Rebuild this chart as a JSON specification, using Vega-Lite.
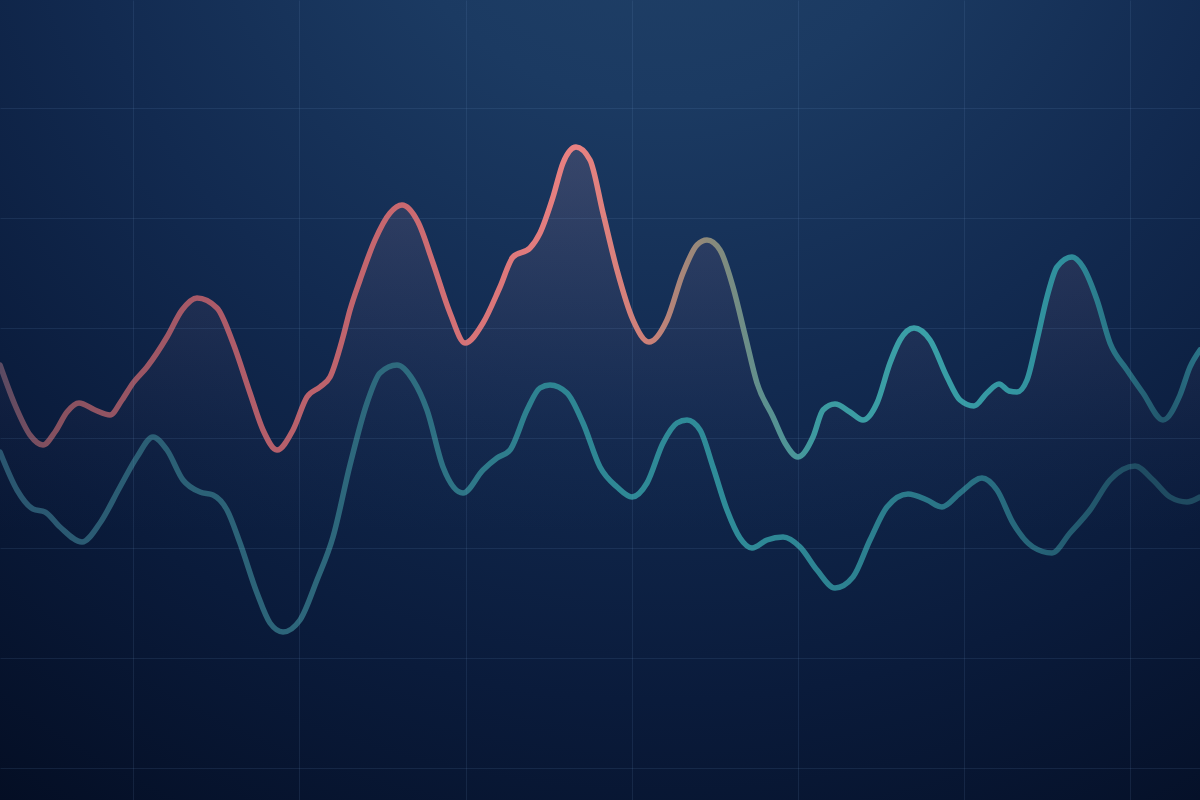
{
  "$schema": "https://vega.github.io/schema/vega-lite/v6.json",
  "width": 1200,
  "height": 800,
  "padding": 0,
  "autosize": "none",
  "background": "#0a1a36",
  "config": {
    "view": {"stroke": null},
    "axis": {"labels": false, "ticks": false, "domain": false, "title": null, "grid": true, "gridColor": "#7aa6d8", "gridOpacity": 0.12, "gridWidth": 1}
  },
  "datasets": {
    "upper": [
      {"x": 0, "y": 365}, {"x": 15, "y": 405}, {"x": 30, "y": 435}, {"x": 43, "y": 445}, {"x": 55, "y": 432},
      {"x": 67, "y": 412}, {"x": 79, "y": 403}, {"x": 95, "y": 410}, {"x": 110, "y": 415}, {"x": 122, "y": 400},
      {"x": 133, "y": 383}, {"x": 147, "y": 367}, {"x": 167, "y": 337}, {"x": 182, "y": 310}, {"x": 197, "y": 298},
      {"x": 217, "y": 308}, {"x": 233, "y": 343}, {"x": 250, "y": 393}, {"x": 263, "y": 430}, {"x": 277, "y": 450},
      {"x": 293, "y": 430}, {"x": 307, "y": 397}, {"x": 320, "y": 387}, {"x": 330, "y": 377}, {"x": 343, "y": 337},
      {"x": 350, "y": 310}, {"x": 360, "y": 280}, {"x": 375, "y": 240}, {"x": 390, "y": 213}, {"x": 402, "y": 205},
      {"x": 418, "y": 222}, {"x": 433, "y": 263}, {"x": 450, "y": 313}, {"x": 465, "y": 343}, {"x": 483, "y": 323},
      {"x": 500, "y": 287}, {"x": 513, "y": 257}, {"x": 530, "y": 248}, {"x": 540, "y": 233}, {"x": 553, "y": 197},
      {"x": 563, "y": 163}, {"x": 576, "y": 147}, {"x": 590, "y": 160}, {"x": 603, "y": 213}, {"x": 617, "y": 270},
      {"x": 633, "y": 320}, {"x": 649, "y": 342}, {"x": 667, "y": 320}, {"x": 683, "y": 273}, {"x": 697, "y": 245},
      {"x": 707, "y": 240}, {"x": 720, "y": 250}, {"x": 733, "y": 287}, {"x": 745, "y": 335}, {"x": 757, "y": 383},
      {"x": 773, "y": 417}, {"x": 785, "y": 443}, {"x": 798, "y": 457}, {"x": 813, "y": 437}, {"x": 823, "y": 410},
      {"x": 835, "y": 404}, {"x": 850, "y": 412}, {"x": 863, "y": 420}, {"x": 877, "y": 403}, {"x": 890, "y": 363},
      {"x": 900, "y": 340}, {"x": 914, "y": 328}, {"x": 930, "y": 340}, {"x": 947, "y": 377}, {"x": 960, "y": 400},
      {"x": 974, "y": 406}, {"x": 987, "y": 393}, {"x": 999, "y": 384}, {"x": 1009, "y": 391}, {"x": 1017, "y": 392},
      {"x": 1027, "y": 380}, {"x": 1037, "y": 340}, {"x": 1047, "y": 297}, {"x": 1057, "y": 267}, {"x": 1072, "y": 257},
      {"x": 1083, "y": 267}, {"x": 1097, "y": 300}, {"x": 1110, "y": 343}, {"x": 1127, "y": 370}, {"x": 1143, "y": 393},
      {"x": 1163, "y": 420}, {"x": 1180, "y": 395}, {"x": 1190, "y": 367}, {"x": 1200, "y": 350}
    ],
    "lower": [
      {"x": 0, "y": 452}, {"x": 17, "y": 490}, {"x": 33, "y": 509}, {"x": 45, "y": 512}, {"x": 60, "y": 527},
      {"x": 82, "y": 542}, {"x": 100, "y": 523}, {"x": 120, "y": 487}, {"x": 137, "y": 457}, {"x": 153, "y": 437},
      {"x": 167, "y": 450}, {"x": 183, "y": 480}, {"x": 200, "y": 492}, {"x": 213, "y": 495}, {"x": 227, "y": 510},
      {"x": 240, "y": 543}, {"x": 257, "y": 593}, {"x": 270, "y": 623}, {"x": 283, "y": 632}, {"x": 300, "y": 620},
      {"x": 317, "y": 580}, {"x": 333, "y": 537}, {"x": 350, "y": 465}, {"x": 367, "y": 403}, {"x": 380, "y": 373},
      {"x": 397, "y": 365}, {"x": 413, "y": 380}, {"x": 427, "y": 410}, {"x": 443, "y": 467}, {"x": 463, "y": 493},
      {"x": 483, "y": 470}, {"x": 497, "y": 458}, {"x": 510, "y": 450}, {"x": 527, "y": 410}, {"x": 540, "y": 388},
      {"x": 550, "y": 385}, {"x": 567, "y": 393}, {"x": 583, "y": 423}, {"x": 600, "y": 467}, {"x": 617, "y": 487},
      {"x": 632, "y": 497}, {"x": 647, "y": 483}, {"x": 663, "y": 443}, {"x": 677, "y": 423}, {"x": 687, "y": 420},
      {"x": 700, "y": 430}, {"x": 713, "y": 467}, {"x": 727, "y": 510}, {"x": 740, "y": 538}, {"x": 752, "y": 548},
      {"x": 767, "y": 540}, {"x": 783, "y": 537}, {"x": 800, "y": 547}, {"x": 817, "y": 570}, {"x": 835, "y": 588},
      {"x": 853, "y": 577}, {"x": 870, "y": 540}, {"x": 887, "y": 507}, {"x": 908, "y": 494}, {"x": 927, "y": 500},
      {"x": 942, "y": 507}, {"x": 960, "y": 493}, {"x": 982, "y": 478}, {"x": 997, "y": 490}, {"x": 1013, "y": 523},
      {"x": 1033, "y": 547}, {"x": 1052, "y": 553}, {"x": 1070, "y": 533}, {"x": 1090, "y": 510}, {"x": 1110, "y": 480},
      {"x": 1135, "y": 466}, {"x": 1153, "y": 480}, {"x": 1170, "y": 497}, {"x": 1187, "y": 502}, {"x": 1200, "y": 497}
    ]
  },
  "layer": [
    {
      "data": {"values": [{}]},
      "mark": {
        "type": "rect",
        "color": {
          "gradient": "radial",
          "x1": 0.55, "y1": 0.0, "r1": 0,
          "x2": 0.55, "y2": 0.0, "r2": 1.0,
          "stops": [
            {"offset": 0, "color": "#224369"},
            {"offset": 0.25, "color": "#1b3a62"},
            {"offset": 0.5, "color": "#122a50"},
            {"offset": 0.75, "color": "#0a1b3b"},
            {"offset": 1, "color": "#040e24"}
          ]
        }
      },
      "encoding": {
        "x": {"datum": 0, "type": "quantitative", "scale": {"domain": [0, 1200], "nice": false, "zero": false}, "axis": {"values": [133, 299, 466, 632, 798, 964, 1130], "grid": true, "zindex": 1}},
        "x2": {"datum": 1200},
        "y": {"datum": 0, "type": "quantitative", "scale": {"domain": [0, 800], "reverse": true, "nice": false, "zero": false}, "axis": {"values": [108, 218, 328, 438, 548, 658, 768], "grid": true, "zindex": 1}},
        "y2": {"datum": 800}
      }
    },
    {
      "data": {"name": "upper"},
      "mark": {
        "type": "area",
        "interpolate": "monotone",
        "color": {
          "gradient": "linear",
          "x1": 0, "y1": 0, "x2": 0, "y2": 1,
          "stops": [
            {"offset": 0, "color": "rgba(235,160,175,0.15)"},
            {"offset": 0.25, "color": "rgba(200,140,165,0.08)"},
            {"offset": 0.45, "color": "rgba(160,120,160,0.025)"},
            {"offset": 0.6, "color": "rgba(120,100,140,0)"},
            {"offset": 1, "color": "rgba(120,100,140,0)"}
          ]
        }
      },
      "encoding": {
        "x": {"field": "x", "type": "quantitative"},
        "y": {"field": "y", "type": "quantitative"},
        "y2": {"datum": 800}
      }
    },
    {
      "data": {"name": "lower"},
      "mark": {
        "type": "line",
        "interpolate": "monotone",
        "strokeWidth": 5.5,
        "strokeCap": "round",
        "color": {
          "gradient": "linear",
          "x1": 0, "y1": 0, "x2": 1, "y2": 0,
          "stops": [
            {"offset": 0, "color": "#2a5670"},
            {"offset": 0.15, "color": "#2b6076"},
            {"offset": 0.33, "color": "#2e6a7e"},
            {"offset": 0.46, "color": "#2e8593"},
            {"offset": 0.6, "color": "#2f8c99"},
            {"offset": 0.72, "color": "#2c8090"},
            {"offset": 0.83, "color": "#286c80"},
            {"offset": 0.95, "color": "#1f4c62"},
            {"offset": 1, "color": "#1f4a60"}
          ]
        }
      },
      "encoding": {
        "x": {"field": "x", "type": "quantitative"},
        "y": {"field": "y", "type": "quantitative"}
      }
    },
    {
      "data": {"name": "upper"},
      "mark": {
        "type": "line",
        "interpolate": "monotone",
        "strokeWidth": 5.5,
        "strokeCap": "round",
        "color": {
          "gradient": "linear",
          "x1": 0, "y1": 0, "x2": 1, "y2": 0,
          "stops": [
            {"offset": 0, "color": "#5a4a62"},
            {"offset": 0.04, "color": "#84505f"},
            {"offset": 0.17, "color": "#aa5a68"},
            {"offset": 0.33, "color": "#c8686f"},
            {"offset": 0.48, "color": "#ea8282"},
            {"offset": 0.54, "color": "#cc8078"},
            {"offset": 0.59, "color": "#8c8a7a"},
            {"offset": 0.64, "color": "#5a9090"},
            {"offset": 0.68, "color": "#3c9aa0"},
            {"offset": 0.77, "color": "#3aa0a8"},
            {"offset": 0.89, "color": "#2f8e9c"},
            {"offset": 0.97, "color": "#22566c"},
            {"offset": 1, "color": "#2a7488"}
          ]
        }
      },
      "encoding": {
        "x": {"field": "x", "type": "quantitative"},
        "y": {"field": "y", "type": "quantitative"}
      }
    }
  ]
}
